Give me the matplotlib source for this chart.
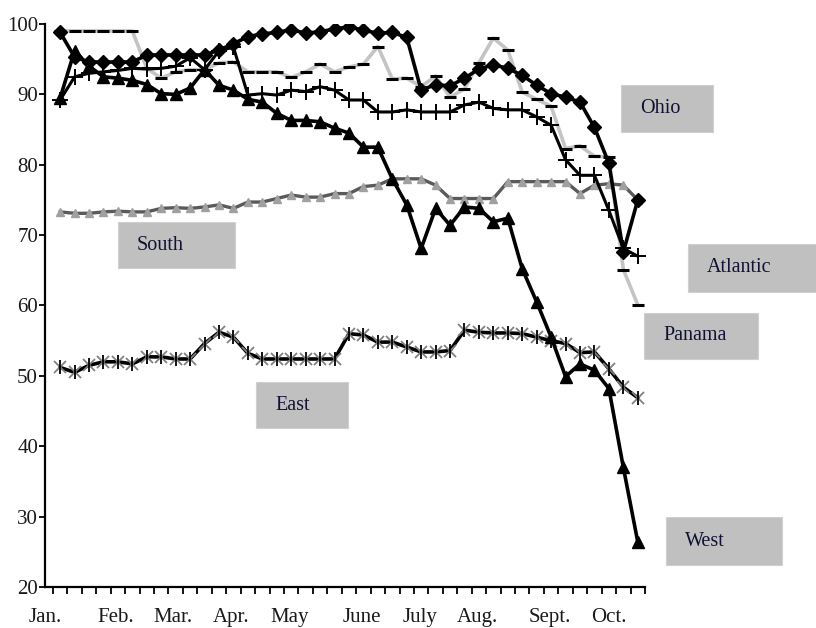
import numpy as np
import matplotlib
matplotlib.use("Agg")
import matplotlib.pyplot as plt
from matplotlib.patches import Rectangle

plt.rcParams['font.family'] = ['Liberation Serif', 'DejaVu Serif']

# weekly readings, Jan. to Oct.
weeks = np.arange(41)

ohio = [98.8, 95.3, 94.6, 94.6, 94.6, 94.6, 95.6, 95.6, 95.6, 95.6, 95.6, 96.3, 97.2, 98.2,
        98.6, 98.8, 99.2, 98.7, 98.9, 99.3, 99.6, 99.1, 98.7, 98.8, 98.1, 90.6, 91.4, 91.2,
        92.3, 93.6, 94.2, 93.7, 92.7, 91.3, 90.1, 89.6, 88.9, 85.3, 80.2, 67.6, 75.0]
atlantic = [89.2, 92.5, 93.0, 93.2, 93.4, 93.7, 93.6, 93.7, 94.0, 95.2, 93.5, 96.2, 96.7, 89.9,
            90.1, 89.9, 90.6, 90.4, 91.1, 90.6, 89.2, 89.2, 87.5, 87.5, 87.8, 87.5, 87.5, 87.5,
            88.5, 88.9, 88.0, 87.8, 87.8, 86.8, 85.6, 80.7, 78.5, 78.5, 73.5, 68.1, 67.0]
panama = [99.0, 99.0, 99.0, 99.0, 99.0, 99.0, 93.7, 92.3, 93.2, 93.5, 93.5, 94.5, 94.6, 93.2,
          93.2, 93.2, 92.4, 93.2, 94.3, 93.2, 93.9, 94.3, 96.8, 92.2, 92.3, 91.1, 92.6, 89.6,
          90.8, 94.5, 98.0, 96.3, 90.3, 89.3, 88.3, 82.3, 82.7, 81.2, 81.1, 65.1, 60.1]
south = [73.3, 73.1, 73.1, 73.3, 73.4, 73.3, 73.3, 73.8, 73.9, 73.8, 74.0, 74.3, 73.8, 74.7,
         74.7, 75.2, 75.7, 75.4, 75.4, 75.9, 75.9, 76.9, 77.1, 78.0, 78.0, 78.0, 77.1, 75.2,
         75.2, 75.2, 75.2, 77.6, 77.6, 77.6, 77.6, 77.6, 75.9, 77.1, 77.3, 77.1, 75.0]
east = [51.2, 50.5, 51.5, 52.0, 52.0, 51.7, 52.7, 52.7, 52.4, 52.4, 54.6, 56.2, 55.5, 53.2,
        52.4, 52.4, 52.4, 52.4, 52.4, 52.4, 56.0, 55.8, 54.8, 54.8, 54.1, 53.4, 53.4, 53.6,
        56.5, 56.2, 56.1, 56.1, 56.0, 55.5, 55.0, 54.6, 53.3, 53.4, 51.0, 48.4, 46.9]
west = [89.5, 96.2, 94.0, 92.5, 92.3, 92.0, 91.4, 90.1, 90.0, 90.9, 93.5, 91.3, 90.6, 89.3,
        88.9, 87.3, 86.3, 86.3, 86.1, 85.2, 84.5, 82.5, 82.5, 78.0, 74.3, 68.1, 73.8, 71.4,
        74.0, 73.8, 71.9, 72.4, 65.2, 60.5, 55.5, 49.9, 51.7, 50.8, 48.2, 37.0, 26.4]

months = ['Jan.', 'Feb.', 'Mar.', 'Apr.', 'May', 'June', 'July', 'Aug.', 'Sept.', 'Oct.']
month_pos = [-1.05, 3.87, 7.84, 11.87, 15.9, 20.9, 24.9, 28.9, 33.9, 37.98]

# label boxes (name, left, top, width, height in pixels of the figure)
labels = [('Ohio', 621, 85, 92, 47),
          ('Atlantic', 688, 244, 140, 48),
          ('South', 118, 222, 117, 46),
          ('East', 256, 382, 92, 46),
          ('Panama', 644, 313, 114, 46),
          ('West', 666, 517, 116, 48)]

W, H = 816, 628
fig = plt.figure(figsize=(W / 100, H / 100), dpi=100)
ax = fig.add_axes([45 / W, 1 - 587 / H, 600 / W, 563 / H])

ax.plot(weeks, panama, color='#c4c4c4', lw=2.6, zorder=2)
ax.plot(weeks, panama, ls='none', marker='_', ms=8, mew=2.2, color='black', zorder=2.1)
ax.plot(weeks, south, color='#5a5a5a', lw=2.4, marker='^', ms=6,
        mfc='#a0a0a0', mec='#a0a0a0', zorder=3)
ax.plot(weeks, east, color='black', lw=2.6, zorder=3)
ax.plot(weeks, east, ls='none', marker='x', ms=8, mew=1.3, color='#808080', zorder=3.1)
ax.plot(weeks, east, ls='none', marker='|', ms=10, mew=1.3, color='black', zorder=3.2)
ax.plot(weeks, atlantic, color='black', lw=2.2, marker='+', ms=11, mew=1.4, zorder=4)
ax.plot(weeks, west, color='black', lw=2.6, marker='^', ms=8, zorder=5)
ax.plot(weeks, ohio, color='black', lw=2.6, marker='D', ms=7.5, zorder=6)

ax.set_xlim(-0.5, 40.5)
ax.set_ylim(20, 100)
ax.set_yticks(np.arange(20, 101, 10))
ax.set_xticks(month_pos)
ax.set_xticklabels(months)
ax.set_xticks(np.arange(-0.5, 41, 1), minor=True)
ax.tick_params(axis='x', which='major', length=0, pad=15, labelsize=15, labelcolor='#1a1a1a')
ax.tick_params(axis='x', which='minor', length=5, width=1.3, direction='out')
ax.tick_params(axis='y', length=4, width=1.3, pad=1, labelsize=15, labelcolor='#1a1a1a')

for s in ['top', 'right']:
    ax.spines[s].set_visible(False)
for s in ['left', 'bottom']:
    ax.spines[s].set_linewidth(1.6)

for name, x0, y0, w, h in labels:
    fig.add_artist(Rectangle((x0 / W, 1 - (y0 + h) / H), w / W, h / H,
                             transform=fig.transFigure, facecolor='#c0c0c0',
                             edgecolor='#d0d0d0', lw=0.8, zorder=10))
    fig.text((x0 + 19) / W, 1 - (y0 + h / 2) / H, name, fontsize=14.5,
             color='#111133', va='center', ha='left', zorder=11)

fig.savefig('out.png', dpi=100)
